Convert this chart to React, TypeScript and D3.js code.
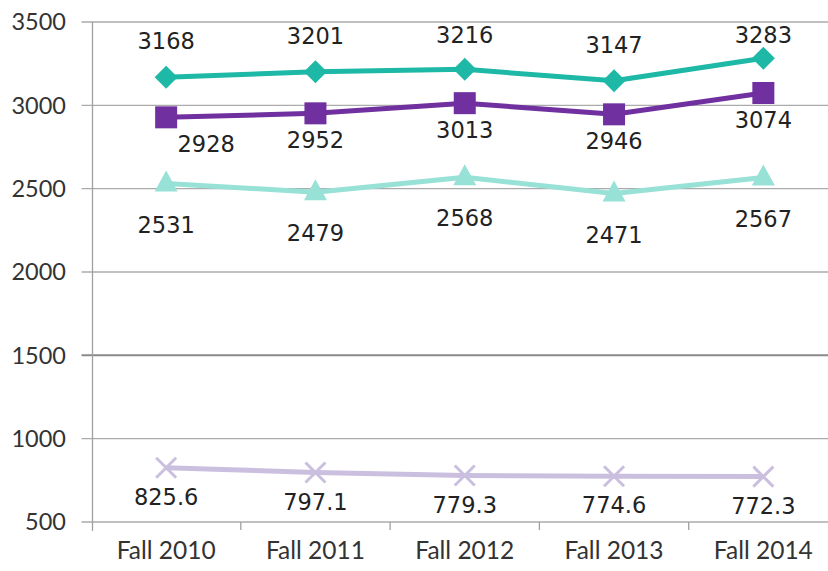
import React from 'react'
import * as d3 from 'd3'

const WIDTH = 828
const HEIGHT = 571
const MARGIN = { top: 22, left: 91.5, bottom: 49 }
const PLOT_RIGHT = 838

const categories = ['Fall 2010', 'Fall 2011', 'Fall 2012', 'Fall 2013', 'Fall 2014']
const yTicks = [500, 1000, 1500, 2000, 2500, 3000, 3500]

const diamondValues = [3168, 3201, 3216, 3147, 3283]
const squareValues = [2928, 2952, 3013, 2946, 3074]
const triangleValues = [2531, 2479, 2568, 2471, 2567]
const crossValues = [825.6, 797.1, 779.3, 774.6, 772.3]

type Series = {
  id: string
  values: number[]
  color: string
  marker: 'diamond' | 'square' | 'triangle' | 'cross'
  labelDy: number
}

const series: Series[] = [
  { id: 'cross', values: crossValues, color: '#cbbfe0', marker: 'cross', labelDy: 29 },
  { id: 'triangle', values: triangleValues, color: '#98e1d7', marker: 'triangle', labelDy: 41 },
  { id: 'square', values: squareValues, color: '#7030a0', marker: 'square', labelDy: 27 },
  { id: 'diamond', values: diamondValues, color: '#1db8a6', marker: 'diamond', labelDy: -36 },
]

function Marker({ kind, x, y, color }: { kind: Series['marker']; x: number; y: number; color: string }) {
  if (kind === 'diamond') {
    const s = 11.5
    return <path d={`M${x},${y - s}L${x + s},${y}L${x},${y + s}L${x - s},${y}Z`} fill={color} />
  }
  if (kind === 'square') {
    return <rect x={x - 11} y={y - 11} width={22} height={22} fill={color} />
  }
  if (kind === 'triangle') {
    return <path d={`M${x},${y - 13}L${x + 11.5},${y + 8}L${x - 11.5},${y + 8}Z`} fill={color} />
  }
  const s = 10
  return (
    <path
      d={`M${x - s},${y - s}L${x + s},${y + s}M${x - s},${y + s}L${x + s},${y - s}`}
      stroke={color}
      strokeWidth={3}
    />
  )
}

export default function App() {
  const x = d3
    .scaleBand<string>()
    .domain(categories)
    .range([MARGIN.left, PLOT_RIGHT])
  const y = d3
    .scaleLinear()
    .domain([500, 3500])
    .range([HEIGHT - MARGIN.bottom, MARGIN.top])

  const cx = (i: number) => (x(categories[i]) ?? 0) + x.bandwidth() / 2
  const line = d3
    .line<number>()
    .x((_, i) => cx(i))
    .y((v) => y(v))

  const bottom = y(500)

  return (
    <svg
      width={WIDTH}
      height={HEIGHT}
      style={{ position: 'absolute', left: 0, top: 0, background: '#fff' }}
    >
      {yTicks.map((t) => (
        <g key={t}>
          <line
            x1={MARGIN.left - 10}
            x2={WIDTH}
            y1={y(t)}
            y2={y(t)}
            stroke={t === 1500 ? '#8a8a8a' : '#ababab'}
            strokeWidth={t === 1500 ? 2 : 1.3}
          />
          <text
            x={66}
            y={y(t)}
            dy="0.35em"
            textAnchor="end"
            fontFamily="Lato, sans-serif"
            fontSize={23.5}
            fill="#333"
          >
            {t}
          </text>
        </g>
      ))}
      <line x1={MARGIN.left + 1} x2={MARGIN.left + 1} y1={MARGIN.top} y2={bottom + 9} stroke="#a0a0a0" strokeWidth={1.3} />
      {categories.slice(1).map((c) => (
        <line key={c} x1={x(c)} x2={x(c)} y1={bottom} y2={bottom + 8} stroke="#a0a0a0" strokeWidth={1.3} />
      ))}
      {categories.map((c, i) => (
        <text
          key={c}
          x={cx(i)}
          y={HEIGHT - 12}
          textAnchor="middle"
          fontFamily="Lato, sans-serif"
          fontSize={24.5}
          fill="#333"
        >
          {c}
        </text>
      ))}

      {series.map((s) => (
        <g key={s.id}>
          <path d={line(s.values) ?? ''} fill="none" stroke={s.color} strokeWidth={5} strokeLinejoin="round" />
          {s.values.map((v, i) => (
            <Marker key={i} kind={s.marker} x={cx(i)} y={y(v)} color={s.color} />
          ))}
        </g>
      ))}

      {series.map((s) =>
        s.values.map((v, i) => {
          let lx = cx(i)
          if (s.id === 'square' && i === 0) lx += 40
          const ly = Math.max(y(v) + s.labelDy, 35)
          return (
            <text
              key={`${s.id}-${i}`}
              x={lx}
              y={ly}
              dy="0.36em"
              textAnchor="middle"
              fontFamily="DejaVu Sans, sans-serif"
              fontSize={22.5}
              fill="#222"
            >
              {v}
            </text>
          )
        }),
      )}
    </svg>
  )
}
